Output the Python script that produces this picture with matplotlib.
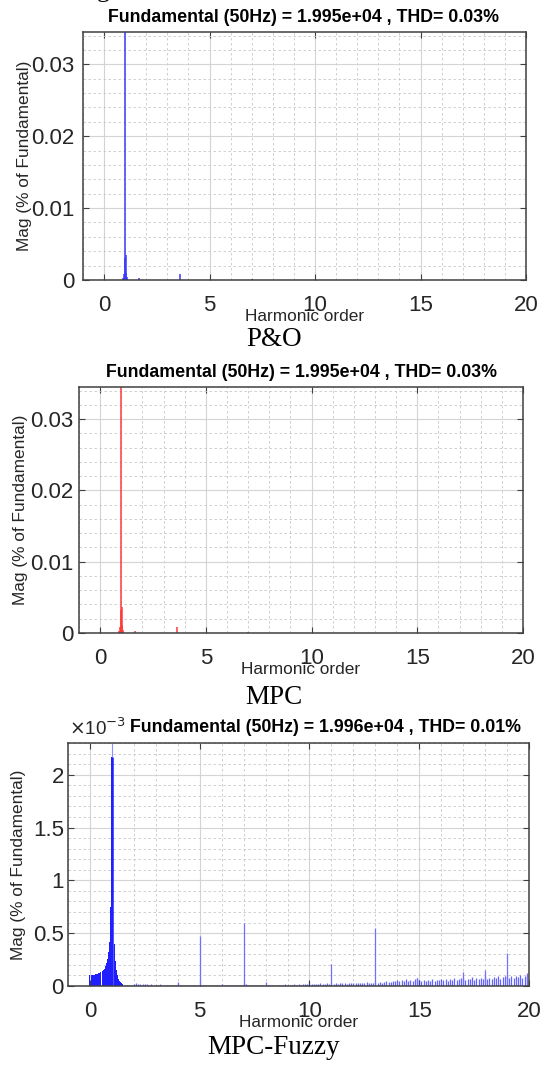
import numpy as np
import matplotlib
matplotlib.use("Agg")
import matplotlib.pyplot as plt

plt.rcParams['font.family'] = ['Liberation Sans', 'DejaVu Sans']

W, H = 540, 1066

# ---- panel data (harmonic order, magnitude in % of fundamental) ----
# P&O
po_order = [0.90, 0.95, 0.98, 1.00, 1.02, 1.05, 1.10, 1.65, 3.62, 7.00]
po_mag = [0.0003, 0.0008, 0.0030, 0.0345, 0.0035, 0.0010, 0.0004, 0.0003, 0.0009, 0.0001]
po_ymax = 0.0345

# MPC
mpc_order = [0.90, 0.95, 0.98, 1.00, 1.02, 1.05, 1.10, 1.65, 3.65, 7.00]
mpc_mag = [0.0003, 0.0009, 0.0032, 0.0345, 0.0036, 0.0011, 0.0004, 0.0003, 0.0008, 0.0002]
mpc_ymax = 0.0345

# MPC-Fuzzy (values x 1e-3)
fz_hump_order = [0.00, 0.05, 0.10, 0.15, 0.20, 0.25, 0.30, 0.35, 0.40, 0.45,
                 0.50, 0.55, 0.60, 0.65, 0.70, 0.75, 0.80, 0.85, 0.90, 0.95,
                 1.00, 1.05, 1.10, 1.15, 1.20, 1.25, 1.30, 1.35, 1.40, 1.45, 1.50]
fz_hump_mag = [0.100, 0.100, 0.100, 0.100, 0.105, 0.110, 0.110, 0.115, 0.120, 0.125,
               0.130, 0.140, 0.150, 0.165, 0.190, 0.220, 0.260, 0.320, 0.420, 0.750,
               2.170, 0.850, 0.400, 0.240, 0.150, 0.100, 0.070, 0.050, 0.035, 0.025, 0.015]
fz_peak_top = 2.30

fz_floor_start = 1.6
fz_floor = [
    0.010, 0.008, 0.006, 0.010,
    0.020, 0.025, 0.022, 0.018, 0.020, 0.015, 0.018, 0.012, 0.015, 0.010,
    0.012, 0.010, 0.015, 0.008, 0.012, 0.010, 0.014, 0.009, 0.011, 0.012,
    0.025, 0.010, 0.012, 0.008, 0.010, 0.012, 0.009, 0.011, 0.010, 0.008,
    0.012, 0.010, 0.008, 0.010, 0.012, 0.009, 0.008, 0.010, 0.012, 0.009,
    0.022, 0.010, 0.012, 0.008, 0.009, 0.011, 0.010, 0.008, 0.012, 0.010,
    0.030, 0.015, 0.012, 0.010, 0.013, 0.011, 0.009, 0.012, 0.010, 0.011,
    0.020, 0.012, 0.010, 0.014, 0.011, 0.009, 0.013, 0.010, 0.012, 0.015,
    0.012, 0.014, 0.010, 0.016, 0.012, 0.018, 0.013, 0.015, 0.020, 0.016,
    0.025, 0.018, 0.022, 0.015, 0.020, 0.024, 0.018, 0.021, 0.026, 0.019,
    0.030, 0.022, 0.025, 0.020, 0.028, 0.024, 0.030, 0.022, 0.026, 0.028,
    0.030, 0.025, 0.032, 0.027, 0.024, 0.030, 0.034, 0.026, 0.029, 0.031,
    0.040, 0.030, 0.035, 0.028, 0.038, 0.045, 0.036, 0.042, 0.050, 0.048,
    0.055, 0.045, 0.060, 0.050, 0.062, 0.048, 0.058, 0.052, 0.065, 0.080,
    0.060, 0.050, 0.055, 0.045, 0.058, 0.050, 0.062, 0.048, 0.055, 0.060,
    0.065, 0.055, 0.070, 0.050, 0.062, 0.058, 0.072, 0.060, 0.068, 0.075,
    0.080, 0.060, 0.070, 0.065, 0.085, 0.060, 0.072, 0.068, 0.078, 0.070,
    0.090, 0.070, 0.080, 0.065, 0.085, 0.075, 0.090, 0.070, 0.082, 0.095,
    0.100, 0.080, 0.090, 0.075, 0.095, 0.085, 0.100, 0.080, 0.090, 0.110,
    0.120]
fz_spike_order = [4.0, 5.0, 7.0, 8.0, 11.0, 13.0, 14.9, 17.0, 18.0, 19.0, 19.9]
fz_spike_mag = [0.035, 0.47, 0.60, 0.04, 0.21, 0.55, 0.08, 0.13, 0.15, 0.31, 0.12]
fz_ymax = 2.30

titles = ['Fundamental (50Hz) = 1.995e+04 , THD= 0.03%',
          'Fundamental (50Hz) = 1.995e+04 , THD= 0.03%',
          'Fundamental (50Hz) = 1.996e+04 , THD= 0.01%']
captions = ['P&O', 'MPC', 'MPC-Fuzzy']

# axes boxes in pixels: left, top, right, bottom
boxes = [(83, 32, 526, 280), (79, 387, 523, 633), (68, 743, 529, 986)]
ylabel_x = [32, 28, 26]
ytick_pad = [6, 4, 3]
title_x = [304, 301, 326]
caption_y = [339, 697, 1048]

fig = plt.figure(figsize=(W / 100, H / 100), dpi=100)


def make_axes(box):
    l, t, r, b = box
    return fig.add_axes([l / W, 1 - b / H, (r - l) / W, (b - t) / H])


def style(ax, i, ymax, ymajor, yminor, ytick_labels):
    ax.set_xlim(-1, 20)
    ax.set_ylim(0, ymax)
    ax.set_xticks([0, 5, 10, 15, 20])
    ax.set_xticks(np.arange(-1, 21, 1), minor=True)
    ax.set_yticks(ymajor)
    ax.set_yticklabels(ytick_labels)
    ax.set_yticks(yminor, minor=True)
    ax.grid(True, which='major', color='#d4d4d4', lw=0.8, ls='-')
    ax.grid(True, which='minor', color='#c8c8c8', lw=0.6, ls=(0, (3, 3)))
    ax.set_axisbelow(True)
    for s in ax.spines.values():
        s.set_color('#404040')
        s.set_linewidth(1.1)
    ax.tick_params(which='major', direction='in', length=4, width=0.8,
                   colors='#404040', labelcolor='#262626', labelsize=16,
                   top=True, right=True)
    ax.tick_params(axis='x', which='major', pad=11)
    ax.tick_params(axis='y', which='major', pad=ytick_pad[i])
    ax.tick_params(which='minor', length=0)
    ax.set_xlabel('Harmonic order', fontsize=12.4, color='#262626', labelpad=-5)
    ax.set_ylabel('Mag (% of Fundamental)', fontsize=12.4, color='#262626')
    l, t, r, b = boxes[i]
    ax.yaxis.set_label_coords((ylabel_x[i] - l) / (r - l), 0.5)


# P&O
ax1 = make_axes(boxes[0])
ax1.vlines(po_order, 0, po_mag, color='#3a3aff', lw=1.1)
style(ax1, 0, po_ymax, [0, 0.01, 0.02, 0.03],
      np.arange(0, 0.035, 0.002), ['0', '0.01', '0.02', '0.03'])

# MPC
ax2 = make_axes(boxes[1])
ax2.vlines(mpc_order, 0, mpc_mag, color='#ff3a3a', lw=1.1)
style(ax2, 1, mpc_ymax, [0, 0.01, 0.02, 0.03],
      np.arange(0, 0.035, 0.002), ['0', '0.01', '0.02', '0.03'])

# MPC-Fuzzy
ax3 = make_axes(boxes[2])
floor_order = fz_floor_start + 0.1 * np.arange(len(fz_floor))
ax3.vlines(floor_order, 0, fz_floor, color='#3030ff', lw=0.9, alpha=0.75)
ax3.bar(fz_hump_order, fz_hump_mag, width=0.045, color='#2020ff', lw=0)
ax3.vlines([1.0], 0, [fz_peak_top], color='#9090ff', lw=0.8)
ax3.vlines(fz_hump_order[20:21], 0, fz_hump_mag[20:21], color='#2020ff', lw=1.8)
ax3.vlines(fz_spike_order, 0, fz_spike_mag, color='#7070ff', lw=0.9)
style(ax3, 2, fz_ymax, [0, 0.5, 1, 1.5, 2],
      np.arange(0, 2.31, 0.1), ['0', '0.5', '1', '1.5', '2'])

# titles
for box, tx, t in zip(boxes, title_x, titles):
    fig.text(tx / W, 1 - (box[1] - 15) / H, t,
             ha='center', va='center', fontsize=12.8, fontweight='bold')
fig.text(69 / W, 1 - 728 / H, r'$\times$10$^{-3}$', ha='left', va='center',
         fontsize=13.5, color='#262626')

for c, y in zip(captions, caption_y):
    fig.text(274 / W, 1 - y / H, c, ha='center', va='center', fontsize=19.5,
             family=['Liberation Serif', 'DejaVu Serif'])

# cut-off caption from previous figure at the top edge
fig.text(103 / W, 1 + 9 / H, 'g', ha='center', va='center', fontsize=18.5,
         family=['Liberation Serif', 'DejaVu Serif'])

fig.savefig('out.png', dpi=100)
